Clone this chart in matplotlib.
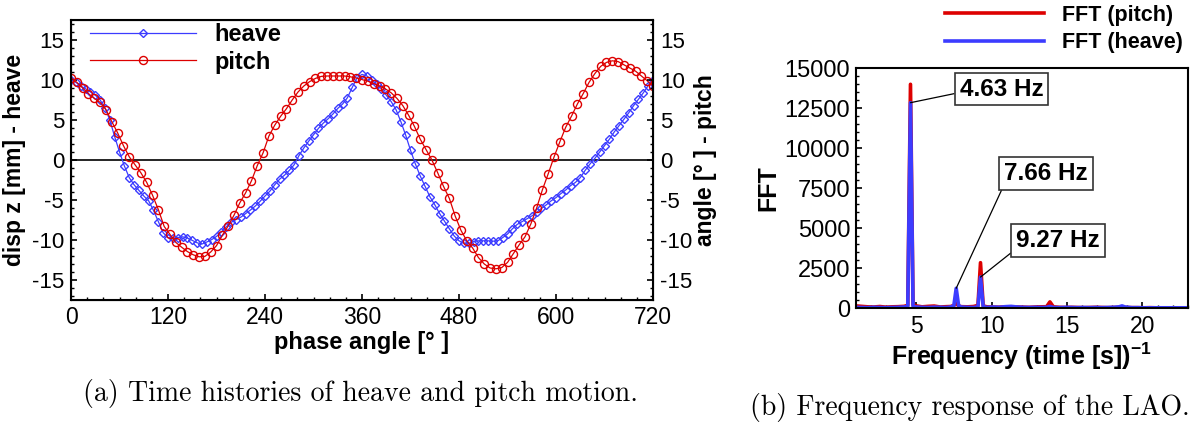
import matplotlib
matplotlib.use("Agg")
import matplotlib.pyplot as plt
from matplotlib.ticker import MultipleLocator
import numpy as np

plt.rcParams['font.family'] = 'Liberation Sans'
plt.rcParams['axes.unicode_minus'] = False
plt.rcParams['mathtext.fontset'] = 'custom'
plt.rcParams['mathtext.rm'] = 'Liberation Sans'
plt.rcParams['mathtext.bf'] = 'Liberation Sans:bold'

# ---- (a) time histories ----
phase_pitch = np.linspace(0, 720, 101)
pitch = [10.3, 9.7, 9.0, 8.3, 7.7, 7.2, 6.3, 4.8, 3.4, 1.8,
         0.4, -0.6, -1.6, -2.8, -4.4, -6.2, -8.3, -9.3, -10.3, -10.9,
         -11.45, -11.85, -12.1, -12.05, -11.5, -10.7, -9.4, -8.25, -6.9, -5.35,
         -4.1, -2.6, -0.7, 0.9, 3.0, 4.35, 5.45, 6.4, 7.5, 8.5,
         9.25, 9.8, 10.2, 10.45, 10.5, 10.5, 10.5, 10.5, 10.4, 10.25,
         10.05, 9.85, 9.55, 9.25, 8.9, 8.4, 7.7, 6.8, 5.6, 4.2,
         2.6, 1.3, 0.0, -1.6, -3.3, -4.8, -7.0, -8.8, -10.1, -11.0,
         -12.2, -13.0, -13.5, -13.6, -13.45, -12.8, -11.7, -10.6, -9.6, -8.0,
         -6.0, -3.7, -1.7, 0.4, 2.3, 4.1, 5.5, 7.0, 8.3, 9.7,
         10.8, 11.7, 12.2, 12.4, 12.3, 11.9, 11.5, 11.1, 10.5, 9.9,
         9.25]

phase_heave = np.linspace(0, 720, 121)
heave = [10.0, 9.7, 9.25, 8.9, 8.5, 8.1, 7.5, 6.5, 5.0, 2.9,
         1.0, -0.75, -2.2, -3.1, -3.8, -4.5, -5.1, -6.3, -7.7, -9.1,
         -9.7, -9.8, -9.7, -9.6, -9.75, -10.05, -10.35, -10.5, -10.25, -9.95,
         -9.55, -9.0, -8.35, -7.8, -7.45, -7.15, -6.7, -6.25, -5.75, -5.15,
         -4.5, -3.9, -3.1, -2.4, -1.9, -1.3, -0.6, 0.55, 1.5, 2.35,
         3.15, 3.95, 4.6, 5.15, 5.75, 6.45, 7.0, 7.8, 9.1, 10.3,
         10.7, 10.5, 10.0, 9.45, 8.9, 8.1, 7.3, 6.3, 4.8, 3.1,
         1.2, -0.5, -2.0, -3.3, -4.6, -5.6, -6.7, -7.65, -8.6, -9.5,
         -10.1, -10.4, -10.4, -10.2, -10.1, -10.1, -10.1, -10.15, -10.1, -9.7,
         -9.25, -8.6, -8.05, -7.7, -7.35, -7.0, -6.55, -6.05, -5.6, -5.1,
         -4.7, -4.2, -3.75, -3.2, -2.8, -2.2, -1.3, -0.5, 0.2, 1.0,
         1.8, 2.6, 3.5, 4.3, 5.1, 5.9, 6.8, 7.6, 8.4, 9.3,
         10.0]

# ---- (b) frequency response ----
freq = [1.0, 1.4, 1.8, 2.2, 2.6, 3.0, 3.4, 3.8, 4.2, 4.45,
        4.63, 4.8, 5.0, 5.4, 5.8, 6.2, 6.6, 7.0, 7.3, 7.5,
        7.66, 7.82, 8.0, 8.4, 8.8, 9.1, 9.27, 9.45, 9.7, 10.1,
        10.5, 10.9, 11.3, 11.7, 12.1, 12.5, 12.9, 13.3, 13.65, 13.87,
        14.1, 14.5, 14.9, 15.3, 15.7, 16.1, 16.5, 16.9, 17.3, 17.7,
        18.1, 18.45, 18.65, 18.85, 19.3, 19.7, 20.1, 20.5, 20.9, 21.3,
        21.7, 22.1, 22.5, 23.0]
fft_pitch = [150, 120, 90, 80, 110, 70, 90, 100, 120, 180,
             14000, 200, 150, 90, 120, 140, 80, 100, 110, 180,
             300, 150, 100, 90, 110, 180, 2850, 150, 90, 80,
             70, 90, 60, 80, 70, 60, 80, 90, 100, 400,
             90, 60, 50, 60, 50, 40, 50, 60, 50, 40,
             50, 60, 90, 50, 40, 40, 30, 40, 30, 30,
             30, 30, 30, 30]
fft_heave = [60, 50, 40, 60, 50, 40, 50, 60, 80, 100,
             12850, 120, 80, 60, 50, 70, 60, 50, 80, 150,
             1250, 160, 80, 60, 50, 80, 1950, 100, 60, 80,
             60, 100, 120, 80, 60, 50, 60, 50, 60, 120,
             50, 40, 60, 50, 40, 50, 40, 50, 40, 50,
             60, 90, 150, 80, 40, 40, 30, 30, 30, 30,
             30, 30, 30, 30]
peak_labels = ['4.63 Hz', '7.66 Hz', '9.27 Hz']
peak_xy = [(4.63, 12850), (7.66, 1250), (9.27, 1950)]
label_pos = [(10.65, 13700), (13.6, 8440), (14.4, 4220)]
label_rel = [(0, 0.35), (0, 0), (0, 0.15)]

red = '#dd0000'
blue = '#3c3cff'

fig = plt.figure(figsize=(12.02, 4.29), dpi=100)

ax = fig.add_axes([0.0591, 0.3007, 0.4842, 0.6527])
ax.plot(phase_heave, heave, color=blue, lw=0.9, marker='D', ms=3.8,
        mfc='none', mec=blue, mew=1.0, label='heave')
ax.plot(phase_pitch, pitch, color=red, lw=0.9, marker='o', ms=5.8,
        mfc='none', mec=red, mew=1.0, label='pitch')
ax.axhline(0, color='black', lw=1.2, zorder=1)
ax.set_xlim(0, 720)
ax.set_ylim(-17.5, 17.5)
ax.set_xticks(np.arange(0, 721, 120))
ax.set_yticks(np.arange(-15, 16, 5))
ax.xaxis.set_minor_locator(MultipleLocator(20))
ax.yaxis.set_minor_locator(MultipleLocator(1))
ax.tick_params(which='both', direction='in', top=False, right=False)
ax.tick_params(which='major', length=4, width=1.2)
ax.tick_params(which='minor', length=2.5, width=1.0)
ax.tick_params(axis='y', labelsize=16, pad=5)
ax.tick_params(axis='x', labelsize=16.5, pad=4.5)
for s in ax.spines.values():
    s.set_linewidth(1.5)
ax.set_xlabel('phase angle [° ]', fontsize=17, fontweight='bold', labelpad=1)
ax.set_ylabel('disp z [mm] - heave', fontsize=16.5, fontweight='bold', labelpad=4)
ax.legend(loc='upper left', bbox_to_anchor=(0.0326, 0.99), frameon=False,
          prop={'weight': 'bold', 'size': 17}, numpoints=1,
          handlelength=4.5, handletextpad=0.76, borderpad=0, borderaxespad=0,
          labelspacing=0.2)

axr = ax.twinx()
axr.set_ylim(-17.5, 17.5)
axr.set_yticks(np.arange(-15, 16, 5))
axr.yaxis.set_minor_locator(MultipleLocator(1))
axr.tick_params(which='both', direction='in')
axr.tick_params(which='major', length=4, width=1.2, labelsize=16, pad=5)
axr.tick_params(which='minor', length=2.5, width=1.0)
axr.set_ylabel('angle [° ] - pitch', fontsize=16.5, fontweight='bold', labelpad=1)

# ---- right panel ----
bx = fig.add_axes([0.7119, 0.2814, 0.2762, 0.5594])
bx.plot(freq, fft_pitch, color=red, lw=2.6, label='FFT (pitch)')
bx.plot(freq, fft_heave, color=blue, lw=2.6, label='FFT (heave)')
bx.set_xlim(1, 23)
bx.set_ylim(0, 15000)
bx.set_xticks([5, 10, 15, 20])
bx.set_yticks(np.arange(0, 15001, 2500))
bx.xaxis.set_minor_locator(MultipleLocator(1))
bx.yaxis.set_minor_locator(MultipleLocator(500))
bx.tick_params(which='both', direction='in', top=False, right=False)
bx.tick_params(which='major', length=4, width=1.2)
bx.tick_params(which='minor', length=2.5, width=1.0)
bx.tick_params(axis='y', labelsize=17, pad=4)
bx.tick_params(axis='x', labelsize=16.5, pad=5)
for s in bx.spines.values():
    s.set_linewidth(1.5)
bx.set_xlabel(r'Frequency (time [s])$^{\mathbf{-1}}$', fontsize=18,
              fontweight='bold', labelpad=2)
bx.set_ylabel('FFT', fontsize=18, fontweight='bold', labelpad=3)

for txt, xy, pos, rel in zip(peak_labels, peak_xy, label_pos, label_rel):
    bx.annotate(txt, xy=xy, xytext=pos, ha='center', va='center',
                fontsize=17.5, fontweight='bold',
                bbox=dict(boxstyle='square,pad=0.2', fc='white', ec='#333333', lw=1.2),
                arrowprops=dict(arrowstyle='-', color='black', lw=0.9,
                                relpos=rel, shrinkA=0, shrinkB=0))

h, l = bx.get_legend_handles_labels()
fig.legend(h, l, loc='upper left', bbox_to_anchor=(945 / 1202, 1 - 5 / 429),
           frameon=False, prop={'weight': 'bold', 'size': 15.5},
           handlelength=4.6, handletextpad=0.85, borderpad=0, borderaxespad=0,
           labelspacing=0.3)

fig.text(360 / 1202, 1 - 393 / 429, '(a) Time histories of heave and pitch motion.',
         ha='center', va='center', fontsize=20, family='cmr10')
fig.text(970 / 1202, 1 - 408 / 429, '(b) Frequency response of the LAO.',
         ha='center', va='center', fontsize=20, family='cmr10')

fig.savefig('out.png', dpi=100)
